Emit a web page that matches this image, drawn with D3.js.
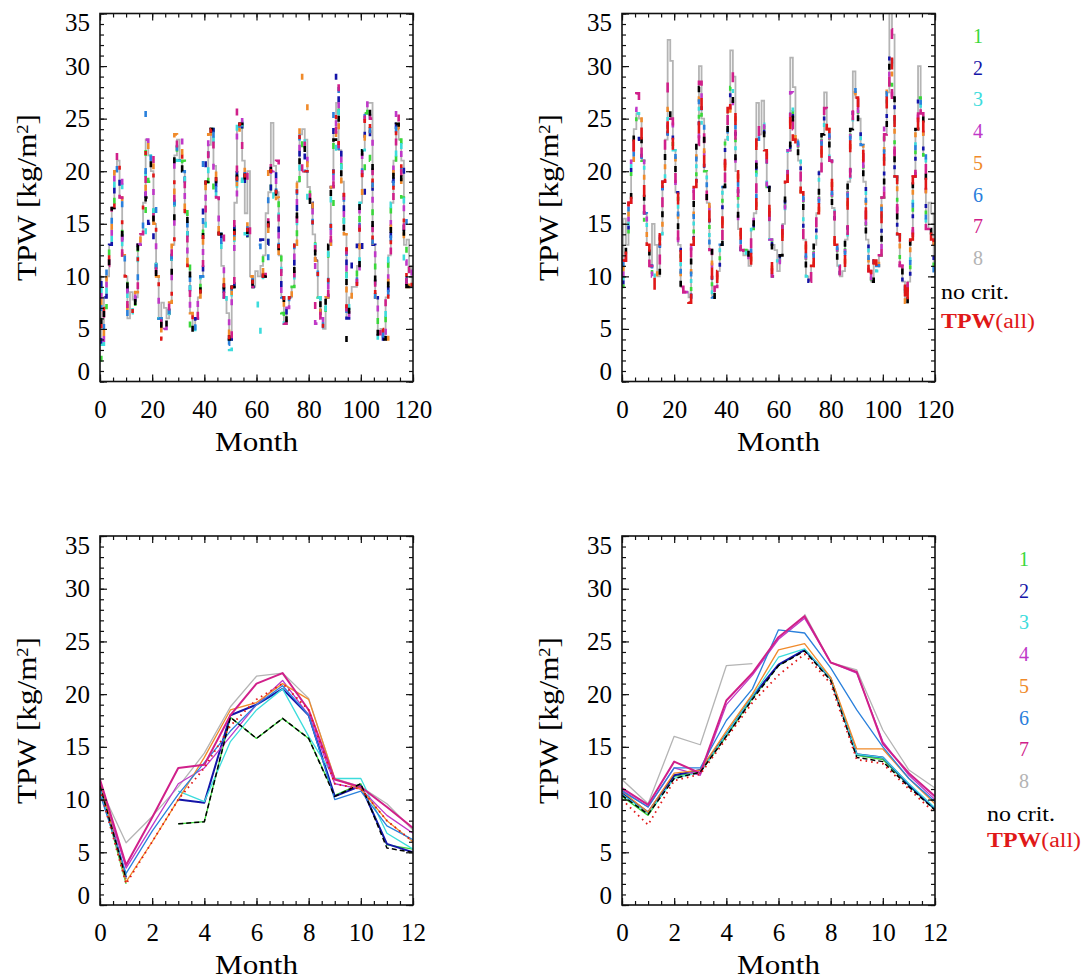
<!DOCTYPE html>
<html>
<head>
<meta charset="utf-8">
<script src="https://cdn.jsdelivr.net/npm/d3@7"></script>
<style>
  body { margin: 0; background: #fff; }
  svg text { font-family: "Liberation Serif", "Times New Roman", serif; }
</style>
</head>
<body>
<svg class="chart" width="1089" height="980"></svg>
<script>
// series names in legend order
const seriesNames = ["1", "2", "3", "4", "5", "6", "7", "8", "no crit.", "TPW(all)"];

// tick labels
const monthTicksLong = [0, 20, 40, 60, 80, 100, 120];
const monthTicksClim = [0, 2, 4, 6, 8, 10, 12];
const tpwTicks = [0, 5, 10, 15, 20, 25, 30, 35];

// top left: common monthly curve (month 0..120) + where each series departs from it
const tlBase = [
  10, 3.5, 8, 11, 13, 16.5, 20, 21, 17.5, 12,
  10, 6, 6.5, 7, 8.5, 13, 14, 17, 23, 21.5,
  20, 15, 10, 6, 4, 5, 6, 7.5, 13, 21.5,
  23, 22.5, 20, 16, 11, 6.5, 5, 6, 8, 10,
  15, 19, 22, 24, 20, 17.5, 14, 11, 8, 6.5,
  4, 9, 17, 24, 24.5, 21, 16.5, 13.5, 10, 9,
  10.5, 10, 11, 10, 13, 18, 21.5, 20, 17.5, 12,
  8, 5.5, 7, 8, 9, 13, 19, 23.5, 24, 20,
  18.5, 17, 14, 11.5, 8, 6, 5, 8, 13, 18.5,
  23, 26.5, 22, 19, 14, 6, 8, 9, 9, 11,
  17, 22, 25.5, 26, 21, 13, 8, 4.5, 5, 4,
  8, 12, 17, 21, 24.5, 23, 17.5, 11.5, 9, 11,
  9
];
const tlDev = {
  "1": [[0, 2], [2, 7], [5, 17], [6, 17.5], [7, 18], [8, 16], [16, 12.5], [17, 15], [19, 19], [28, 12], [29, 18.5], [31, 20], [32, 21], [33, 17.5], [35, 5], [41, 17], [44, 18], [45, 17], [46, 16], [55, 19], [62, 12], [66, 19], [70, 6.5], [76, 16], [78, 21], [89, 14], [93, 16.5], [95, 8], [101, 20], [105, 12.5], [110, 6.5], [113, 19], [117, 17]],
  "2": [[3, 9.5], [9, 11], [18, 19], [19, 15], [20, 12], [30, 21], [34, 12.5], [40, 21], [41, 20], [46, 17], [52, 15], [59, 9], [60, 12], [61, 12.5], [62, 13.5], [63, 11], [75, 14], [77, 22], [84, 7], [90, 25], [91, 30.5], [92, 26], [97, 12], [98, 10.5], [99, 13], [100, 10.5], [101, 17], [112, 19], [116, 21]],
  "3": [[4, 11.5], [8, 19], [11, 5], [16, 13], [17, 12], [30, 21], [36, 4.5], [40, 13], [50, 3], [53, 26.8], [54, 25.5], [55, 19], [56, 14], [57, 12], [59, 7.5], [60, 9], [61, 3.5], [62, 8], [67, 17.5], [68, 19], [69, 13.5], [80, 17], [90, 21], [107, 3], [108, 3], [113, 20], [116, 22], [119, 9]],
  "4": [[6, 21], [7, 21.5], [8, 20], [19, 22.5], [20, 22], [30, 24], [31, 24], [42, 23], [48, 9], [54, 26.5], [55, 23], [66, 20], [67, 22], [79, 23], [83, 5.5], [91, 28], [92, 24], [96, 8.5], [99, 9.5], [103, 27], [104, 24], [114, 26], [115, 25]],
  "5": [[2, 9.5], [12, 7.5], [18, 23], [20, 23], [29, 23.5], [30, 21], [42, 23.5], [47, 12], [53, 23], [56, 19], [65, 20], [66, 20.5], [67, 17], [76, 21], [77, 28], [78, 30], [79, 27], [80, 17.5], [81, 18], [93, 17], [102, 24], [108, 4], [110, 4], [115, 24]],
  "6": [[5, 17], [14, 7], [18, 25.8], [19, 24], [21, 17], [30, 23.5], [40, 21], [43, 25], [44, 22], [49, 3.5], [56, 15], [61, 13], [64, 11], [66, 19], [78, 24], [84, 9], [90, 26], [91, 29], [99, 12], [102, 27], [103, 25], [116, 20], [117, 20]],
  "7": [[0, 5], [1, 4], [7, 22], [18, 20.5], [19, 22.5], [20, 22.5], [31, 23], [35, 8], [43, 24.5], [47, 14.5], [53, 26.5], [54, 25], [56, 22], [57, 16], [66, 22], [68, 21], [77, 20], [80, 19], [83, 6], [91, 28.5], [92, 19], [96, 7.5], [103, 27.5], [104, 25], [114, 26.5], [118, 7.5]],
  "8": [[3, 10], [12, 8.5], [13, 7.8], [14, 8], [24, 7.5], [25, 7], [31, 21], [42, 22.5], [43, 24], [44, 20.5], [56, 16], [57, 20], [63, 12], [64, 16], [66, 24.6], [67, 20.5], [68, 18], [79, 23], [90, 24], [103, 26.5], [104, 26.5], [116, 21], [117, 13], [118, 13.5]],
  "no crit.": [[6, 17], [7, 17.5], [8, 16.5], [18, 17.5], [22, 9], [24, 3], [31, 21], [33, 18], [36, 4.5], [44, 20], [45, 18], [71, 4.3], [77, 24], [95, 2.8], [107, 3], [116, 17]],
  "TPW(all)": [[6, 20], [19, 22], [30, 22], [53, 23], [80, 19.5], [103, 27]]
};

// top right
const trBase = [
  9, 11.5, 13, 17, 21, 24, 25.5, 25, 21, 16,
  13, 11, 10, 10.5, 10, 14, 19, 23, 26, 25,
  22, 18, 13, 9, 8.5, 8.5, 8, 13, 18.5, 22.5,
  28, 25, 20, 17, 12.5, 8, 9, 10.5, 13, 18.5,
  23, 26, 28, 26, 20, 14.5, 12.5, 12, 12.5, 11,
  14.5, 16, 23, 23.5, 24.5, 22, 18.5, 13.5, 10, 10,
  10.5, 12, 15, 19, 22, 26.5, 24, 23, 21, 18,
  13.5, 10, 9.5, 11, 13, 16, 20, 23.5, 25.5, 24,
  21, 16.5, 13, 11, 10, 10.5, 13.5, 19, 24, 26.5,
  27, 25, 22.5, 19, 13.5, 10.5, 9.5, 11.5, 11, 12,
  17.5, 23.5, 27.5, 31, 27, 19.5, 14, 11, 9.5, 7.5,
  9.5, 13.5, 19.5, 24, 27, 25.5, 21.5, 14.5, 14.5, 13.5,
  10.5
];
const trDev = {
  "1": [[9, 15], [20, 21], [47, 12.5], [66, 22], [94, 12], [98, 10.5], [109, 9], [115, 24.5]],
  "2": [[6, 23], [29, 21], [48, 11.5], [49, 12.5], [67, 22], [98, 10.5], [99, 11.5], [113, 23]],
  "3": [[5, 22.5], [31, 24], [60, 11.5], [75, 17], [90, 26], [97, 11], [98, 10.5], [120, 13]],
  "4": [[5, 26], [18, 27], [19, 26], [42, 29], [54, 25], [65, 27.5], [66, 26], [101, 25]],
  "5": [[7, 25], [30, 27], [41, 25], [78, 25.5], [89, 27.5], [102, 30], [114, 26]],
  "6": [[6, 23], [7, 22.5], [18, 25], [42, 26.5], [66, 25], [89, 28], [103, 31.5]],
  "7": [[6, 27.4], [12, 12], [13, 12], [18, 29], [30, 28.5], [42, 29.5], [53, 25], [55, 22.5], [65, 27.5], [67, 23.5], [78, 26], [89, 28.5], [91, 26], [103, 33.5], [114, 28]],
  "8": [[1, 15.5], [12, 15], [13, 13], [18, 32.5], [19, 30.5], [30, 30], [42, 31.5], [43, 29], [52, 26.5], [54, 26.7], [58, 13], [59, 12.5], [65, 30.8], [66, 28], [78, 27.5], [89, 29.5], [103, 35.5], [104, 33], [114, 30], [118, 17], [119, 16]],
  "no crit.": [[12, 9.5], [25, 8], [35, 7.5], [66, 22], [91, 24], [109, 6.5]],
  "TPW(all)": [[0, 7.5], [12, 8.5], [26, 7.5], [35, 7.5], [66, 23], [67, 22], [96, 8.5], [109, 5.8]]
};

// bottom left: mean annual cycle, month 0..12 (null = no value)
const blClim = {
  "1": [11.2, 2.0, null, 7.7, 7.9, 17.8, 15.8, 17.7, 15.8, 10.4, 11.5, 5.7, 5.3],
  "2": [11.4, 2.6, null, 10.0, 9.7, 18.0, 19.0, 20.5, 18.0, 10.3, 11.3, 5.8, 5.0],
  "3": [11.0, 2.8, null, 10.8, 9.8, 15.5, 18.5, 20.5, 16.0, 12.0, 12.0, 6.8, 5.3],
  "4": [11.5, 3.5, 7.5, 11.5, 13.0, 16.0, 19.0, 21.3, 18.0, 11.5, 11.0, 8.5, 6.8],
  "5": [11.8, 2.2, 6.0, 10.0, 14.0, 18.5, 19.2, 21.0, 19.5, 12.0, 11.0, 8.0, 6.0],
  "6": [10.5, 3.0, 7.0, 10.5, 13.5, 16.5, 19.0, 20.8, 18.0, 10.0, 10.8, 7.5, 6.2],
  "7": [11.9, 3.8, 8.3, 13.0, 13.3, 18.0, 21.0, 22.0, 18.5, 11.9, 11.2, 9.3, 7.3],
  "8": [11.2, 5.9, 8.4, 11.2, 14.4, 18.8, 21.7, 22.0, 19.6, 12.0, 11.2, 9.6, 7.1],
  "no crit.": [11.3, 2.5, null, 7.7, 7.9, 17.8, 15.8, 17.7, 15.8, 10.3, 11.5, 5.4, 5.0],
  "TPW(all)": [11.0, 2.0, 6.0, 10.0, 13.0, 17.0, 19.5, 21.0, 18.5, 11.5, 11.0, 8.0, 6.0]
};

// bottom right
const brClim = {
  "1": [10.3, 8.5, 12.2, 12.6, 16.0, 19.6, 22.7, 24.2, 21.4, 14.2, 13.8, 11.3, 9.0],
  "2": [10.6, 8.8, 12.3, 12.8, 16.2, 19.8, 22.8, 24.2, 21.5, 14.3, 14.0, 11.4, 9.1],
  "3": [10.5, 8.7, 12.0, 12.6, 16.2, 19.8, 23.5, 24.3, 21.5, 14.3, 14.0, 11.5, 9.2],
  "4": [10.9, 9.3, 13.0, 12.3, 19.0, 21.8, 25.2, 27.2, 23.0, 22.0, 15.5, 12.3, 10.0],
  "5": [10.8, 8.8, 12.5, 12.8, 16.5, 20.0, 24.2, 24.8, 21.6, 14.8, 14.8, 12.0, 9.6],
  "6": [10.8, 9.3, 13.0, 13.0, 17.5, 20.5, 26.1, 25.8, 22.5, 18.5, 15.0, 12.0, 9.8],
  "7": [11.1, 9.5, 13.6, 12.5, 19.4, 22.0, 25.4, 27.4, 23.0, 22.1, 15.3, 12.5, 10.3],
  "8": [11.9, 9.6, 16.0, 15.2, 22.7, 22.9, null, 27.6, 23.0, 22.3, 16.6, 12.8, 11.1],
  "no crit.": [10.4, 8.6, 12.0, 12.6, 16.0, 19.5, 22.7, 24.1, 21.3, 14.0, 13.6, 11.2, 9.0],
  "TPW(all)": [10.0, 7.6, 11.8, 12.4, 15.8, 19.2, 21.8, 23.8, 21.0, 13.8, 13.4, 11.0, 8.7]
};

// colours per series
const colors = {
  "1": "#3ad83a", "2": "#1414a8", "3": "#3cdcdc", "4": "#c038c8", "5": "#f08a2a",
  "6": "#2a80dc", "7": "#d0208a", "8": "#b4b4b4", "no crit.": "#000000", "TPW(all)": "#e01818"
};

// dash length of each series on the long panels, so the overlapping lines show all colours
const tlDash = { "1": 6, "2": 6, "3": 6, "4": 6, "5": 6, "6": 6, "7": 7, "no crit.": 6, "TPW(all)": 4 };
const trDash = { "1": 4, "2": 4, "3": 4, "4": 5, "5": 5, "6": 5, "7": 10, "no crit.": 6, "TPW(all)": 12 };

const svg = d3.select(".chart");
const serif = '"Liberation Serif", "Times New Roman", serif';

const panels = [
  { x0: 100, x1: 413, y0: 13.5, y1: 381.5, kind: "long", base: tlBase, dev: tlDev, dash: tlDash, period: 57 },
  { x0: 622, x1: 935, y0: 13.5, y1: 381.5, kind: "long", base: trBase, dev: trDev, dash: trDash, period: 60,
    legend: { numX: 978, numY: 43, textX: 941, ncY: 299, allY: 328 } },
  { x0: 100, x1: 413, y0: 536, y1: 905, kind: "clim", data: blClim },
  { x0: 622, x1: 935, y0: 536, y1: 905, kind: "clim", data: brClim,
    legend: { numX: 1024, numY: 566, textX: 987, ncY: 821, allY: 847 } }
];

function withDev(base, pts) {
  const a = base.slice();
  (pts || []).forEach(p => { a[p[0]] = p[1]; });
  return a;
}

panels.forEach((p, pi) => {
  const w = p.x1 - p.x0, h = p.y1 - p.y0;
  const long = p.kind === "long";
  const x = d3.scaleLinear().domain(long ? [0, 120] : [0, 12]).range([0, w]);
  const y = d3.scaleLinear().domain([0, 35]).range([h, 0]);
  const g = svg.append("g").attr("transform", `translate(${p.x0},${p.y0})`);

  g.append("clipPath").attr("id", "clip" + pi)
    .append("rect").attr("width", w).attr("height", h);

  const line = d3.line()
    .defined(d => d != null)
    .x((d, i) => x(i))
    .y(d => y(d))
    .curve(long ? d3.curveStep : d3.curveLinear);

  const plot = g.append("g").attr("clip-path", `url(#clip${pi})`);

  if (long) {
    // grey one solid underneath
    plot.append("path")
      .attr("d", line(withDev(p.base, p.dev["8"])))
      .attr("fill", "none")
      .attr("stroke", colors["8"])
      .attr("stroke-width", 1.8);

    const others = seriesNames.filter(s => s !== "8");
    let start = 0;
    others.forEach(s => {
      const len = p.dash[s];
      plot.append("path")
        .attr("d", line(withDev(p.base, p.dev[s])))
        .attr("fill", "none")
        .attr("stroke", colors[s])
        .attr("stroke-width", 2.6)
        .attr("stroke-dasharray", `${len},${p.period - len}`)
        .attr("stroke-dashoffset", p.period - start);
      start += len;
    });
  } else {
    const order = ["8", "1", "2", "3", "4", "5", "6", "7", "no crit.", "TPW(all)"];
    order.forEach(s => {
      const path = plot.append("path")
        .attr("d", line(p.data[s]))
        .attr("fill", "none")
        .attr("stroke", colors[s])
        .attr("stroke-width", (s === "7" || s === "2") ? 2 : 1.3)
        .attr("stroke-linejoin", "round");
      if (s === "no crit.") path.attr("stroke-dasharray", "5,3").attr("stroke-width", 1.5);
      if (s === "TPW(all)") path.attr("stroke-dasharray", "1.6,4").attr("stroke-width", 1.8);
    });
  }

  // axes, ticks pointing inward on all four sides
  const xMajor = long ? monthTicksLong : monthTicksClim;
  const xMinor = long ? d3.range(0, 121, 5) : d3.range(0, 12.01, 0.5);
  const yMinor = d3.range(0, 36, 1);

  g.append("g").attr("transform", `translate(0,${h})`)
    .call(d3.axisBottom(x).tickValues(xMajor).tickSize(-7).tickPadding(18.5).tickFormat(d3.format("d")));
  g.append("g").attr("transform", `translate(0,${h})`)
    .call(d3.axisBottom(x).tickValues(xMinor).tickSize(-4).tickFormat(""));
  g.append("g").call(d3.axisTop(x).tickValues(xMajor).tickSize(-7).tickFormat(""));
  g.append("g").call(d3.axisTop(x).tickValues(xMinor).tickSize(-4).tickFormat(""));

  const yl = g.append("g")
    .call(d3.axisLeft(y).tickValues(tpwTicks).tickSize(-7).tickPadding(10));
  g.append("g").call(d3.axisLeft(y).tickValues(yMinor).tickSize(-4).tickFormat(""));
  g.append("g").attr("transform", `translate(${w},0)`)
    .call(d3.axisRight(y).tickValues(tpwTicks).tickSize(-7).tickFormat(""));
  g.append("g").attr("transform", `translate(${w},0)`)
    .call(d3.axisRight(y).tickValues(yMinor).tickSize(-4).tickFormat(""));

  g.selectAll(".domain").remove();
  g.selectAll(".tick line").attr("stroke", "#111").attr("stroke-width", 1.2);
  g.selectAll(".tick text")
    .attr("font-family", serif)
    .attr("font-size", 25)
    .attr("fill", "#000");
  // end labels sit inside the frame
  yl.selectAll(".tick text").attr("dy", d => d === 0 ? "-0.08em" : d === 35 ? "0.68em" : "0.32em");

  g.append("rect")
    .attr("width", w).attr("height", h)
    .attr("fill", "none").attr("stroke", "#111").attr("stroke-width", 1.6);

  // titles
  g.append("text")
    .attr("x", w / 2).attr("y", h + 69)
    .attr("text-anchor", "middle")
    .attr("font-size", 27)
    .attr("textLength", 83).attr("lengthAdjust", "spacingAndGlyphs")
    .text("Month");

  const yt = g.append("text")
    .attr("transform", `translate(${36 - 100},${h / 2}) rotate(-90)`)
    .attr("text-anchor", "middle")
    .attr("font-size", 27)
    .attr("textLength", 167).attr("lengthAdjust", "spacingAndGlyphs");
  yt.append("tspan").text("TPW [kg/m");
  yt.append("tspan").attr("font-size", 16).attr("baseline-shift", "super").text("2");
  yt.append("tspan").text("]");

  // legend beside the right-hand panels
  if (p.legend) {
    const L = p.legend;
    seriesNames.slice(0, 8).forEach((s, i) => {
      svg.append("text")
        .attr("x", L.numX).attr("y", L.numY + i * 31.7)
        .attr("text-anchor", "middle")
        .attr("font-size", 20)
        .attr("fill", colors[s])
        .text(s);
    });
    svg.append("text")
      .attr("x", L.textX).attr("y", L.ncY)
      .attr("font-size", 20)
      .attr("fill", colors["no crit."])
      .attr("textLength", 68).attr("lengthAdjust", "spacingAndGlyphs")
      .text("no crit.");
    const all = svg.append("text")
      .attr("x", L.textX).attr("y", L.allY)
      .attr("font-size", 20)
      .attr("fill", colors["TPW(all)"])
      .attr("textLength", 94).attr("lengthAdjust", "spacingAndGlyphs");
    all.append("tspan").attr("font-weight", "bold").text("TPW");
    all.append("tspan").text("(all)");
  }
});
</script>
</body>
</html>
